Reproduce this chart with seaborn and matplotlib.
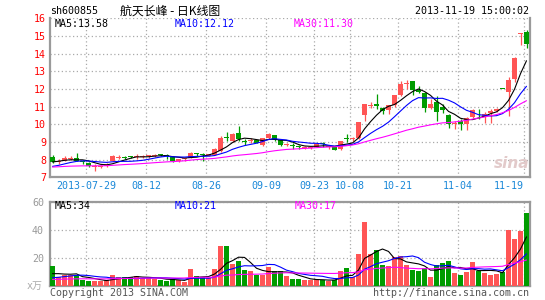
import numpy as np
import pandas as pd
import matplotlib
matplotlib.use("Agg")
import matplotlib.pyplot as plt
import seaborn as sns

# ---------------- data ----------------
open_ = [8.15, 7.85, 7.95, 8.05, 8.10, 7.95, 7.83, 7.58, 7.60, 7.62,
         7.92, 8.12, 8.15, 8.15, 8.15, 8.17, 8.18, 8.20, 8.30, 8.22,
         8.15, 7.90, 8.03, 8.12, 8.32, 8.28, 8.22, 8.28, 8.50, 9.25,
         9.05, 9.53, 9.05, 9.05, 9.10, 8.85, 9.20, 9.38, 9.12, 8.84,
         8.78, 8.77, 8.68, 8.68, 8.72, 8.88, 8.70, 8.75, 8.62, 9.20,
         9.15, 9.20, 10.50, 11.05, 11.17, 10.90, 10.83, 11.07, 11.64, 12.30,
         12.43, 11.95, 11.77, 10.90, 11.26, 10.98, 10.55, 10.00, 10.19, 10.04,
         10.42, 10.55, 10.42, 10.62, 10.75, 11.98, 11.83, 12.58, 15.10, 15.23]
high = [8.25, 8.02, 8.20, 8.18, 8.38, 8.00, 7.85, 7.75, 7.72, 7.80,
        8.25, 8.25, 8.22, 8.22, 8.30, 8.25, 8.25, 8.32, 8.33, 8.30,
        8.18, 8.05, 8.10, 8.42, 8.40, 8.40, 8.32, 8.68, 9.33, 9.57,
        9.50, 9.90, 9.17, 9.22, 9.12, 9.25, 9.50, 9.42, 9.15, 8.95,
        8.92, 8.85, 8.75, 8.74, 8.92, 8.98, 8.76, 8.78, 9.08, 9.43,
        9.28, 10.13, 11.15, 11.25, 11.70, 11.00, 11.12, 11.66, 12.45, 12.50,
        12.45, 12.15, 11.83, 11.42, 11.58, 11.17, 10.60, 10.20, 10.30, 10.42,
        10.87, 10.87, 10.70, 10.85, 10.92, 11.98, 12.70, 13.80, 15.16, 15.36]
low = [7.80, 7.75, 7.90, 7.98, 7.90, 7.75, 7.58, 7.35, 7.55, 7.60,
       7.90, 8.02, 8.05, 8.08, 8.05, 8.12, 8.12, 8.15, 8.20, 8.05,
       7.88, 7.85, 7.95, 8.10, 8.20, 7.95, 8.20, 8.25, 8.45, 9.03,
       9.00, 9.08, 8.85, 8.95, 8.93, 8.78, 9.15, 9.08, 8.78, 8.78,
       8.60, 8.62, 8.62, 8.60, 8.70, 8.72, 8.62, 8.55, 8.55, 9.00,
       9.05, 9.15, 10.20, 10.95, 10.85, 10.60, 10.60, 11.00, 11.60, 12.00,
       11.65, 11.75, 10.70, 10.85, 10.18, 10.65, 9.80, 9.75, 9.68, 9.68,
       10.35, 10.30, 10.10, 10.10, 10.70, 11.98, 10.45, 12.40, 14.47, 14.34]
close = [7.87, 7.92, 8.10, 8.10, 7.95, 7.88, 7.62, 7.60, 7.63, 7.78,
         8.20, 8.15, 8.12, 8.13, 8.18, 8.20, 8.20, 8.28, 8.25, 8.20,
         7.92, 8.03, 8.06, 8.38, 8.30, 8.25, 8.30, 8.62, 9.22, 9.22,
         9.47, 9.15, 9.02, 9.08, 8.96, 9.20, 9.45, 9.10, 8.82, 8.87,
         8.75, 8.74, 8.70, 8.70, 8.90, 8.86, 8.73, 8.57, 9.05, 9.18,
         9.20, 10.13, 11.13, 11.10, 11.02, 10.75, 11.10, 11.64, 12.26, 12.34,
         11.92, 11.85, 10.92, 11.17, 10.70, 10.83, 10.04, 10.10, 10.04, 10.36,
         10.79, 10.50, 10.60, 10.75, 10.89, 11.98, 12.53, 13.78, 15.16, 14.55]
volume = [14, 6, 7.5, 7.5, 7.3, 4, 3.3, 3.5, 3.5, 4,
          7.5, 6.2, 6, 6, 7, 5.6, 5.5, 4.5, 4.2, 3.5,
          4.5, 4, 2.8, 11.8, 6.8, 6, 5.2, 11.8, 28.5, 28.5,
          15.5, 17.5, 11, 10.5, 7.8, 7.8, 13.2, 10.4, 10.5, 6.9,
          4.8, 4.8, 4, 4, 4.5, 4, 3.6, 4, 10.7, 12.6,
          6, 22.6, 45.5, 22.6, 25.5, 14.8, 14, 20.2, 21.2, 14.8,
          11.2, 10.5, 12.9, 6.2, 14.8, 16.4, 17.6, 9, 7.4, 9.8,
          16.9, 10.7, 9.3, 7.9, 8.3, 10, 40, 33.6, 39, 51.9]
# sessions before the visible window (estimated from where the MA lines start)
prior_close = [7.45, 7.50, 7.62, 7.70, 7.66, 7.58, 7.52, 7.60, 7.68, 7.55,
               7.48, 7.50, 7.62, 7.60, 7.55, 7.50, 7.52, 7.58, 7.50, 7.49,
               7.36, 7.28, 7.30, 7.33, 7.58, 7.72, 7.85, 7.93, 7.98]
prior_volume = [4.2, 3.5, 3.8, 4.5, 3.6, 3.9, 4.1, 3.4, 3.7, 4.0,
                4.3, 3.8, 3.6, 4.2, 3.9, 3.7, 4.0, 3.8, 4.1, 3.9,
                3.0, 2.5, 3.0, 2.5, 3.0, 6.0, 9.0, 8.0, 6.0]
tick_pos = [6, 16, 26, 36, 44, 50, 58, 68, 79]
tick_labels = ["2013-07-29", "08-12", "08-26", "09-09", "09-23",
               "10-08", "10-21", "11-04", "11-19"]
price_ticks = [7, 8, 9, 10, 11, 12, 13, 14, 15, 16]
vol_ticks = [20, 40, 60]
ma_price_labels = ["MA5:13.58", "MA10:12.12", "MA30:11.30"]
ma_vol_labels = ["MA5:34", "MA10:21", "MA30:17"]

# ---------------- style ----------------
sns.set_style("white")
plt.rcParams['font.family'] = ['DejaVu Sans Mono', 'Noto Sans CJK SC']
RED = '#ff5555'
GREEN = '#009c00'
GRID = '#aaaaaa'
BORDER = '#9a9a9a'
MA_COLORS = ['black', '#0000ff', '#ff00ff']
FS = 7.2
LW = 0.8

n = len(close)
idx = np.arange(n)
df = pd.DataFrame({'idx': idx, 'open': open_, 'high': high, 'low': low,
                   'close': close, 'volume': volume})
df['dir'] = np.where(df['close'] > df['open'], 'up', 'down')
colors = np.where(df['dir'] == 'up', RED, GREEN)

full_c = pd.Series(prior_close + close)
full_v = pd.Series(prior_volume + volume)
k0 = len(prior_close)
ma_p = [full_c.rolling(w).mean().iloc[k0:].values for w in (5, 10, 30)]
ma_v = [full_v.rolling(w).mean().iloc[k0:].values for w in (5, 10, 30)]

W, H = 545, 300
fig = plt.figure(figsize=(W / 100, H / 100), dpi=100)
fig.patch.set_facecolor('white')
ax1 = fig.add_axes([49.5 / W, 1 - 177.3 / H, 480 / W, (177.3 - 18) / H])
ax2 = fig.add_axes([49.5 / W, 1 - 285.7 / H, 480 / W, 84 / H])

grid_x = [p - 0.42 for p in tick_pos]

# ---------------- price panel ----------------
body_lo = np.minimum(df['open'], df['close'])
body_h = np.maximum(np.abs(df['close'] - df['open']), 0.055)
ax1.vlines(idx, df['low'], df['high'], colors=colors, lw=0.9, zorder=3)
ax1.bar(idx, body_h, bottom=body_lo, width=0.78, color=colors, linewidth=0, zorder=4)
for m, c in zip(ma_p, MA_COLORS):
    sns.lineplot(x=idx, y=m, color=c, lw=LW, ax=ax1, zorder=5)

ax1.set_xlim(-0.5, n - 0.5)
ax1.set_ylim(7, 16.02)
ax1.set_yticks(price_ticks)
ax1.set_yticklabels([str(t) for t in price_ticks])
ax1.set_xticks(grid_x)
ax1.set_xticklabels(tick_labels)
ax1.tick_params(axis='y', colors='red', labelsize=FS, length=0, pad=2.5)
ax1.tick_params(axis='x', colors='#1a88d8', labelsize=FS, length=0, pad=3)
xl = ax1.get_xticklabels()
xl[-1].set_ha('right')
ax1.grid(True, color=GRID, linestyle=(0, (1, 2)), lw=0.9)
ax1.set_xlabel('')
ax1.set_ylabel('')
for s in ['left', 'right', 'bottom']:
    ax1.spines[s].set_color(BORDER)
    ax1.spines[s].set_linewidth(1.6)
ax1.spines['top'].set_visible(False)
ax1.set_facecolor('white')

# ---------------- volume panel ----------------
sns.barplot(data=df, x='idx', y='volume', hue='dir',
            palette={'up': RED, 'down': GREEN}, dodge=False,
            native_scale=True, width=0.83, saturation=1, legend=False,
            errorbar=None, ax=ax2, zorder=3, linewidth=0)
for m, c in zip(ma_v, MA_COLORS):
    sns.lineplot(x=idx, y=m, color=c, lw=LW, ax=ax2, zorder=5)
ax2.set_xlim(-0.5, n - 0.5)
ax2.set_ylim(0, 60)
ax2.set_yticks(vol_ticks)
ax2.set_yticklabels([str(t) for t in vol_ticks])
ax2.set_xticks(grid_x)
ax2.set_xticklabels([])
ax2.tick_params(axis='y', colors='#999999', labelsize=FS, length=0, pad=4)
ax2.tick_params(axis='x', length=0)
ax2.grid(True, color=GRID, linestyle=(0, (1, 2)), lw=0.9)
ax2.set_xlabel('')
ax2.set_ylabel('')
for s in ['left', 'right', 'bottom', 'top']:
    ax2.spines[s].set_color(BORDER)
    ax2.spines[s].set_linewidth(1.6)
ax2.set_facecolor('white')

# ---------------- texts ----------------
def px(x, y):
    return x / W, 1 - y / H

fig.text(*px(50, 11.5), "sh600855", fontsize=FS, va='center', ha='left', color='black')
fig.text(*px(120, 11.5), "航天长峰 - 日K线图", fontsize=8.6, va='center', ha='left',
         color='black', family=['Noto Sans CJK SC', 'DejaVu Sans'])
fig.text(*px(529, 11.5), "2013-11-19 15:00:02", fontsize=FS, va='center', ha='right', color='black')

for lab, c, x in zip(ma_price_labels, MA_COLORS, (55, 175, 294)):
    fig.text(*px(x, 24), lab, fontsize=FS, va='center', ha='left', color=c)
for lab, c, x in zip(ma_vol_labels, MA_COLORS, (55, 175, 295)):
    fig.text(*px(x, 206), lab, fontsize=FS, va='center', ha='left', color=c)

fig.text(*px(43, 286), "x万", fontsize=FS, va='center', ha='right', color='#aaaaaa',
         family=['DejaVu Sans Mono', 'Noto Sans CJK SC'])
fig.text(*px(50, 293), "Copyright 2013 SINA.COM", fontsize=FS, va='center', ha='left', color='#555555')
fig.text(*px(529, 293), "http://finance.sina.com.cn", fontsize=FS, va='center', ha='right', color='#555555')
fig.text(*px(512, 163), "sina", fontsize=11, va='center', ha='center', color='#e2caca',
         style='italic', weight='bold', family=['DejaVu Sans'], zorder=1)

fig.savefig("out.png", dpi=100, facecolor='white')
